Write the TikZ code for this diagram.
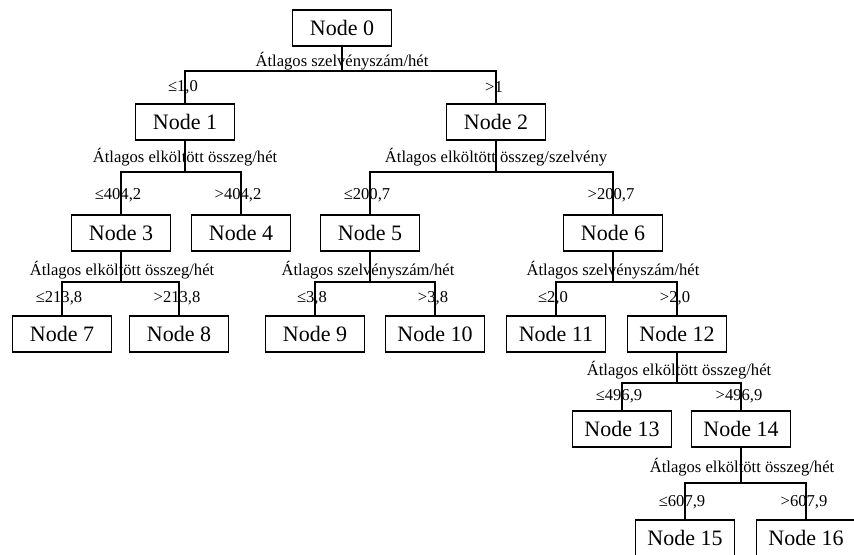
\documentclass[tikz,border=0pt]{standalone}
\usepackage{fontspec}
\setmainfont{Liberation Serif}
\usepackage{tikz}

\begin{document}
\begin{tikzpicture}[
  x=0.5pt,y=-0.5pt,
  treenode/.style={rectangle,draw=black,line width=0.75pt,minimum width=49.5pt,minimum height=18pt,inner sep=0pt,font=\fontsize{11}{13}\selectfont},
  splitlbl/.style={inner sep=0pt,font=\fontsize{8.3}{10}\selectfont},
  branchlbl/.style={inner sep=0pt,font=\fontsize{8.3}{10}\selectfont},
  edge/.style={draw=black,line width=0.7pt}
]
\useasboundingbox (0,0) rectangle (854,554);
% tree nodes
\node[treenode] (n0) at (342,28) {Node 0};
\node[treenode] (n1) at (185,122) {Node 1};
\node[treenode] (n2) at (496,122) {Node 2};
\node[treenode] (n3) at (121,233) {Node 3};
\node[treenode] (n4) at (241,233) {Node 4};
\node[treenode] (n5) at (370,233) {Node 5};
\node[treenode] (n6) at (613,233) {Node 6};
\node[treenode] (n7) at (62,334) {Node 7};
\node[treenode] (n8) at (179,334) {Node 8};
\node[treenode] (n9) at (315,334) {Node 9};
\node[treenode] (n10) at (435,334) {Node 10};
\node[treenode] (n11) at (556,334) {Node 11};
\node[treenode] (n12) at (677,334) {Node 12};
\node[treenode] (n13) at (622,429) {Node 13};
\node[treenode] (n14) at (741,429) {Node 14};
\node[treenode] (n15) at (685,538) {Node 15};
\node[treenode] (n16) at (806,538) {Node 16};
% split points
\coordinate (s0) at (342,71);
\coordinate (s1) at (185,172);
\coordinate (s2) at (496,172);
\coordinate (s3) at (121,282);
\coordinate (s5) at (370,282);
\coordinate (s6) at (613,282);
\coordinate (s12) at (677,383);
\coordinate (s14) at (741,483);
% connectors
\draw[edge] (n0) -- (s0); \draw[edge] (n1) |- (s0) -| (n2);
\draw[edge] (n1) -- (s1); \draw[edge] (n3) |- (s1) -| (n4);
\draw[edge] (n2) -- (s2); \draw[edge] (n5) |- (s2) -| (n6);
\draw[edge] (n3) -- (s3); \draw[edge] (n7) |- (s3) -| (n8);
\draw[edge] (n5) -- (s5); \draw[edge] (n9) |- (s5) -| (n10);
\draw[edge] (n6) -- (s6); \draw[edge] (n11) |- (s6) -| (n12);
\draw[edge] (n12) -- (s12); \draw[edge] (n13) |- (s12) -| (n14);
\draw[edge] (n14) -- (s14); \draw[edge] (n15) |- (s14) -| (n16);
% split variables
\node[splitlbl] (v0) at (342,61) {Átlagos szelvényszám/hét};
\node[splitlbl] (v1) at (185,157) {Átlagos elköltött összeg/hét};
\node[splitlbl] (v2) at (496,157) {Átlagos elköltött összeg/szelvény};
\node[splitlbl] (v3) at (122,270) {Átlagos elköltött összeg/hét};
\node[splitlbl] (v5) at (368,270) {Átlagos szelvényszám/hét};
\node[splitlbl] (v6) at (613,270) {Átlagos szelvényszám/hét};
\node[splitlbl] (v12) at (679,370) {Átlagos elköltött összeg/hét};
\node[splitlbl] (v14) at (742,467) {Átlagos elköltött összeg/hét};
% branch conditions
\node[branchlbl] (c1) at (183,87) {≤1,0};
\node[branchlbl] (c2) at (494,87) {>1};
\node[branchlbl] (c3) at (118,195) {≤404,2};
\node[branchlbl] (c4) at (238,195) {>404,2};
\node[branchlbl] (c5) at (367,195) {≤200,7};
\node[branchlbl] (c6) at (611,195) {>200,7};
\node[branchlbl] (c7) at (59,298) {≤213,8};
\node[branchlbl] (c8) at (177,298) {>213,8};
\node[branchlbl] (c9) at (312,298) {≤3,8};
\node[branchlbl] (c10) at (433,298) {>3,8};
\node[branchlbl] (c11) at (553,298) {≤2,0};
\node[branchlbl] (c12) at (675,298) {>2,0};
\node[branchlbl] (c13) at (619,396) {≤496,9};
\node[branchlbl] (c14) at (739,396) {>496,9};
\node[branchlbl] (c15) at (682,502) {≤607,9};
\node[branchlbl] (c16) at (804,502) {>607,9};
\end{tikzpicture}
\end{document}
